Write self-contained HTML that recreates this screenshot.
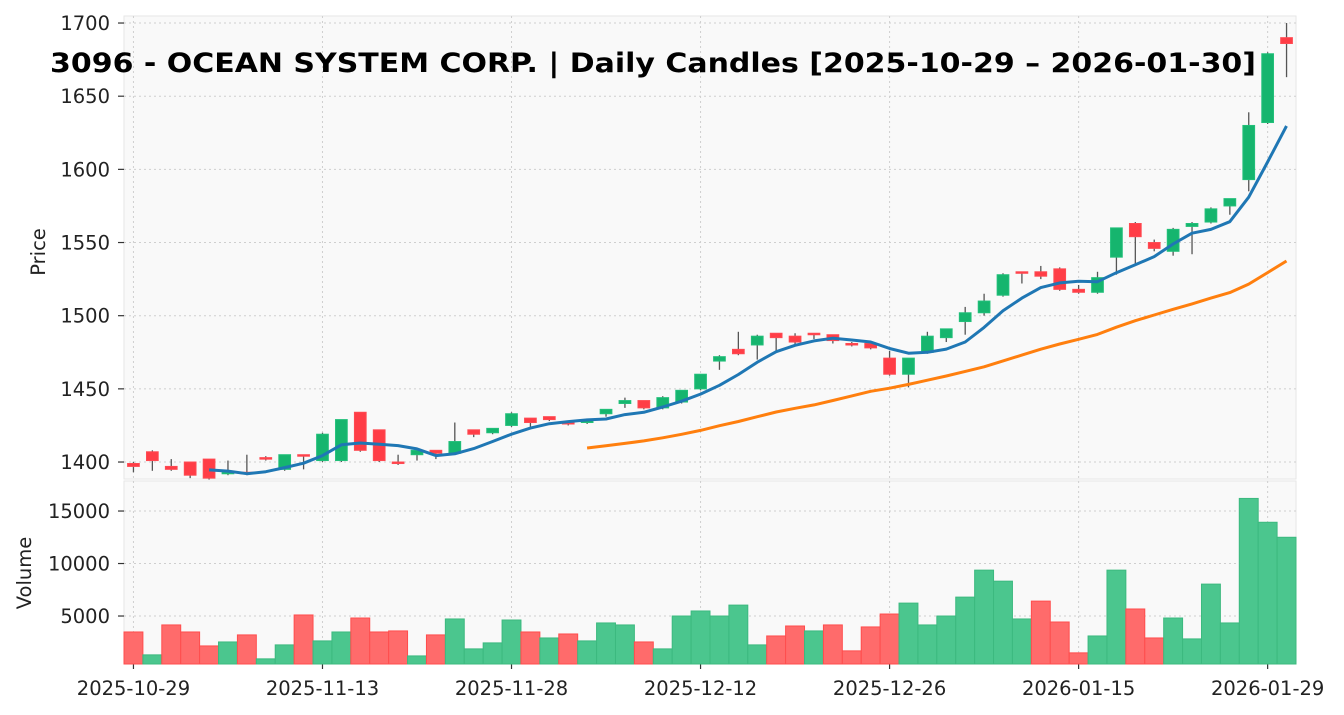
<!DOCTYPE html>
<html><head><meta charset="utf-8">
<style>
html,body{margin:0;padding:0;background:#fff;}
svg{display:block;font-family:"DejaVu Sans","Liberation Sans",sans-serif;}
</style></head>
<body>
<svg id="chart" width="1344" height="715" viewBox="0 0 1344 715"></svg>
<script>
const dates = ["2025-10-29","","","","","","","","","","2025-11-13","","","","","","","","","","2025-11-28","","","","","","","","","","2025-12-12","","","","","","","","","","2025-12-26","","","","","","","","","","2026-01-15","","","","","","","","","","2026-01-29",""];
const opens  = [1399,1407,1397,1400,1402,1392,1393,1403,1395,1405,1401,1401,1434,1422,1400,1405,1408,1406,1422,1420,1425,1430,1431,1427,1427,1433,1440,1442,1437,1441,1450,1469,1477,1480,1488,1486,1488,1487,1481,1481,1471,1460,1475,1485,1496,1502,1514,1530,1530,1532,1518,1516,1540,1563,1550,1544,1561,1564,1575,1593,1632,1690];
const highs  = [1400,1408,1402,1400,1402,1401,1405,1404,1405,1405,1420,1429,1434,1422,1405,1408,1408,1427,1422,1423,1434,1430,1431,1427,1429,1436,1444,1442,1445,1449,1460,1473,1489,1487,1488,1488,1488,1487,1482,1481,1476,1471,1489,1491,1506,1515,1529,1530,1534,1533,1521,1530,1560,1564,1552,1560,1564,1574,1580,1639,1680,1700];
const lows   = [1393,1394,1394,1389,1388,1391,1391,1401,1394,1395,1400,1400,1407,1400,1398,1401,1402,1405,1417,1419,1424,1424,1428,1425,1426,1431,1437,1436,1436,1440,1449,1463,1473,1470,1475,1480,1484,1481,1479,1477,1459,1451,1474,1482,1487,1500,1513,1522,1525,1517,1515,1515,1528,1535,1544,1541,1542,1563,1569,1585,1631,1663];
const closes = [1397,1401,1395,1391,1389,1393,1392,1402,1405,1404,1419,1429,1408,1401,1399,1408,1406,1414,1419,1423,1433,1427,1429,1426,1429,1436,1442,1437,1444,1449,1460,1472,1474,1486,1485,1482,1487,1483,1480,1478,1460,1471,1486,1491,1502,1510,1528,1529,1527,1518,1516,1526,1560,1554,1546,1559,1563,1573,1580,1630,1679,1686];
const volumes = [3480,1300,4150,3480,2150,2530,3200,920,2250,5100,2630,3480,4810,3480,3580,1200,3200,4720,1870,2440,4620,3480,2910,3290,2630,4340,4150,2530,1870,5000,5480,5000,6040,2250,3100,4050,3580,4150,1680,3960,5190,6230,4150,5000,6800,9370,8320,4720,6420,4430,1490,3100,9370,5670,2910,4810,2820,8040,4340,16200,13930,12500];
const priceTicks = [1400,1450,1500,1550,1600,1650,1700];
const volTicks = [5000,10000,15000];

const NS="http://www.w3.org/2000/svg";
const svg=document.getElementById('chart');
function mk(tag,attrs,parent){const e=document.createElementNS(NS,tag);for(const k in attrs)e.setAttribute(k,attrs[k]);(parent||svg).appendChild(e);return e;}

const L=124,R=1296,PT=16,PB=479,VT=481,VB=664;
const X0=-0.5,X1=61.5;
const PMIN=1388.4,PMAX=1704.8,VMIN=430,VMAX=17860;
const FS=19.5;
const xs=i=>L+(i-X0)/(X1-X0)*(R-L);
const yp=p=>PB-(p-PMIN)/(PMAX-PMIN)*(PB-PT);
const yv=v=>VB-(v-VMIN)/(VMAX-VMIN)*(VB-VT);

let bg=mk('rect',{x:L,y:PT,width:R-L,height:PB-PT,fill:'#f9f9f9',stroke:'#e6e6e6'});


let bg2=mk('rect',{x:L,y:VT,width:R-L,height:VB-VT,fill:'#f9f9f9',stroke:'#e6e6e6'});



dates.forEach((d,i)=>{ if(!d) return;
  const x=xs(i);
  let g1=mk('line',{x1:x,x2:x,y1:PT,y2:PB,stroke:'#cfcfcf','stroke-dasharray':'2,3'});
  
  
  let g2=mk('line',{x1:x,x2:x,y1:VT,y2:VB,stroke:'#cfcfcf','stroke-dasharray':'2,3'});
  
  
  let tk=mk('line',{x1:x,x2:x,y1:VB,y2:VB+5,stroke:'#333','stroke-width':1.2});
  
  
  let t=mk('text',{x:x,y:695,'text-anchor':'middle','font-size':FS,fill:'#222'});
  t.textContent=d;
  
  
});
priceTicks.forEach(p=>{
  const y=yp(p);
  let g=mk('line',{x1:L,x2:R,y1:y,y2:y,stroke:'#cfcfcf','stroke-dasharray':'2,3'});
  
  
  let tk=mk('line',{x1:L-6,x2:L,y1:y,y2:y,stroke:'#333','stroke-width':1.2});
  
  
  let t=mk('text',{x:L-14,y:y+7,'text-anchor':'end','font-size':FS,fill:'#222'});
  t.textContent=p;
  
  
});
volTicks.forEach(v=>{
  const y=yv(v);
  let g=mk('line',{x1:L,x2:R,y1:y,y2:y,stroke:'#cfcfcf','stroke-dasharray':'2,3'});
  
  
  let tk=mk('line',{x1:L-6,x2:L,y1:y,y2:y,stroke:'#333','stroke-width':1.2});
  
  
  let t=mk('text',{x:L-14,y:y+7,'text-anchor':'end','font-size':FS,fill:'#222'});
  t.textContent=v;
  
  
});

const bw=(R-L)/(X1-X0);
volumes.forEach((v,i)=>{
  const up = i===0 ? closes[i]>=opens[i] : closes[i]>=closes[i-1];
  const y=yv(v);
  let b=mk('rect',{x:xs(i)-bw/2,y:y,width:bw,height:VB-y,fill:up?'#4bc68e':'#ff6b6b',stroke:up?'#3cb97f':'#ff4d4d','stroke-width':1});
  
  
});

const cw=bw*0.62;
closes.forEach((c,i)=>{
  const o=opens[i],up=c>=o,x=xs(i);
  let w=mk('line',{x1:x,x2:x,y1:yp(highs[i]),y2:yp(lows[i]),stroke:'#555','stroke-width':1.3});
  
  
  const top=yp(Math.max(o,c)),bot=yp(Math.min(o,c));
  let b=mk('rect',{x:x-cw/2,y:top,width:cw,height:Math.max(bot-top,1.5),fill:up?'#16b56e':'#ff3d46',stroke:up?'#22c07a':'#ff4a52','stroke-width':1});
  
  
});

function sma(n){const out=[];for(let i=n-1;i<closes.length;i++){let s=0;for(let k=i-n+1;k<=i;k++)s+=closes[k];out.push([i,s/n]);}return out;}
function drawLine(pts,color,name){
  let p=mk('path',{d:pts.map((q,j)=>(j?'L':'M')+xs(q[0]).toFixed(1)+','+yp(q[1]).toFixed(1)).join(''),fill:'none',stroke:color,'stroke-width':3,'stroke-linejoin':'round'});
  
  
}
drawLine(sma(25),'#ff7f0e','sma-25-line');
drawLine(sma(5),'#1f77b4','sma-5-line');

let yl=mk('text',{x:0,y:0,'font-size':FS,fill:'#222','text-anchor':'middle',transform:'translate(45,252) rotate(-90)'});
yl.textContent='Price';


let vl=mk('text',{x:0,y:0,'font-size':FS,fill:'#222','text-anchor':'middle',transform:'translate(31,573) rotate(-90)'});
vl.textContent='Volume';


let tt=mk('text',{x:653,y:72,'font-size':27,'font-weight':'bold',fill:'#000','text-anchor':'middle',textLength:1206,lengthAdjust:'spacingAndGlyphs'});
tt.textContent='3096 - OCEAN SYSTEM CORP. | Daily Candles [2025-10-29 – 2026-01-30]';


</script>
</body></html>
